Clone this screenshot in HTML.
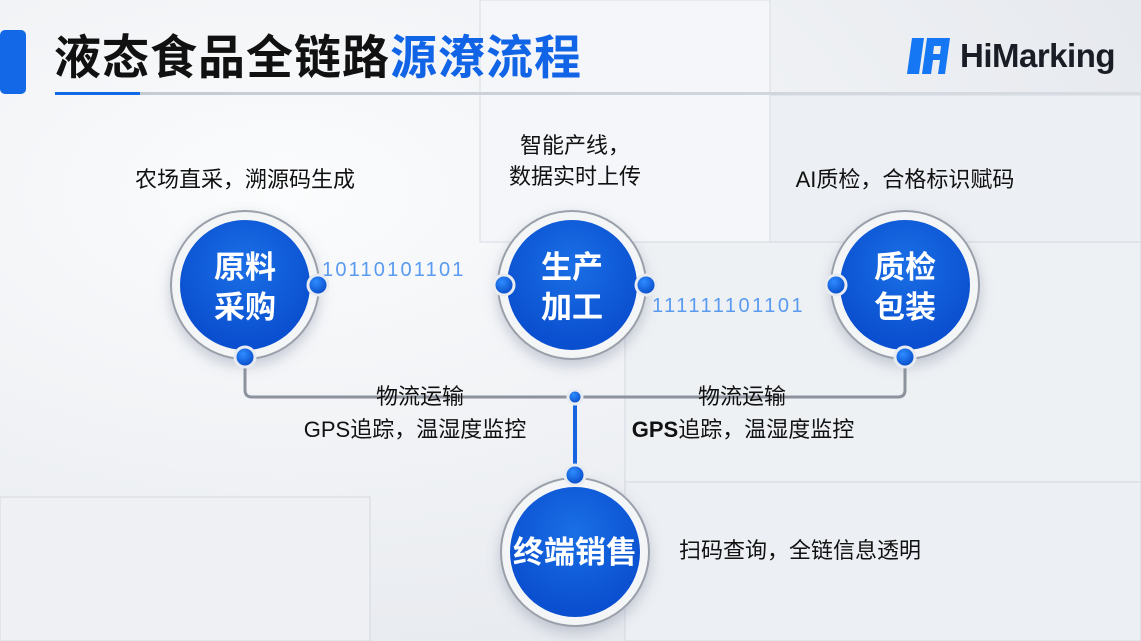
<!DOCTYPE html>
<html><head><meta charset="utf-8"><style>
html,body{margin:0;padding:0}
body{width:1141px;height:641px;overflow:hidden;position:relative;background:#eef0f4;font-family:"Liberation Sans","Noto Sans CJK SC",sans-serif}
.t{position:absolute;color:#111;font-size:22px;white-space:nowrap;text-align:center;line-height:31px}
</style></head><body>
<svg width="1141" height="641" style="position:absolute;left:0;top:0">
<defs>
<radialGradient id="bg" cx="0.25" cy="0.3" r="0.8"><stop offset="0" stop-color="#fbfcfd"/><stop offset="1" stop-color="#e6e9ee"/></radialGradient>
<radialGradient id="bl" cx="0.5" cy="0.35" r="0.6"><stop offset="0" stop-color="#1a6fe6"/><stop offset="1" stop-color="#0a4fcf"/></radialGradient>
<radialGradient id="dot" cx="0.4" cy="0.35" r="0.6"><stop offset="0" stop-color="#2f8cff"/><stop offset="1" stop-color="#0a50cc"/></radialGradient>
<linearGradient id="hl" x1="0" x2="1"><stop offset="0" stop-color="#8a8f98"/><stop offset="0.3" stop-color="#1163e8"/><stop offset="0.7" stop-color="#1163e8"/><stop offset="1" stop-color="#8a8f98"/></linearGradient>
<linearGradient id="ul" x1="0" x2="1"><stop offset="0" stop-color="#c4c9d2"/><stop offset="1" stop-color="#d8dce3"/></linearGradient>
<filter id="sh" x="-30%" y="-30%" width="160%" height="160%"><feDropShadow dx="0" dy="6" stdDeviation="7" flood-color="#6b7690" flood-opacity="0.35"/></filter>
</defs>
<rect width="1141" height="641" fill="url(#bg)"/>
<rect x="480" y="0" width="290" height="242" fill="#f4f6f9" stroke="#d8dce3"/>
<rect x="770" y="95" width="371" height="385" fill="#eceff3" stroke="#d8dce3"/>
<rect x="625" y="242" width="516" height="240" fill="#eef1f4" stroke="#d4d8df"/>
<rect x="625" y="482" width="516" height="159" fill="#eceff3" stroke="#d4d8df"/>
<rect x="0" y="497" width="370" height="144" fill="#eef0f3" stroke="#d4d8df"/>
<rect x="0" y="30" width="26" height="64" rx="5" fill="#1368e8"/>
<rect x="55" y="92" width="1086" height="3" fill="url(#ul)"/>
<rect x="55" y="92" width="85" height="3" fill="#1368e8"/>
<line x1="318" y1="285" x2="504" y2="285" stroke="url(#hl)" stroke-width="4"/>
<line x1="646" y1="285" x2="836" y2="285" stroke="url(#hl)" stroke-width="4"/>
<path d="M245 357 V390 Q245 397 252 397 H898 Q905 397 905 390 V357" fill="none" stroke="#8d939c" stroke-width="3"/>
<line x1="575" y1="397" x2="575" y2="475" stroke="#1565e0" stroke-width="4"/>
<text x="322" y="276" font-family="Liberation Sans" font-size="20" fill="#5a9af0" letter-spacing="2.2">10110101101</text>
<text x="652" y="312" font-family="Liberation Sans" font-size="20" fill="#5a9af0" letter-spacing="2.5">111111101101</text>
<g filter="url(#sh)">
<circle cx="245" cy="285" r="74" fill="#f4f5f7" stroke="#9aa0aa" stroke-width="2"/>
<circle cx="572" cy="285" r="74" fill="#f4f5f7" stroke="#9aa0aa" stroke-width="2"/>
<circle cx="905" cy="285" r="74" fill="#f4f5f7" stroke="#9aa0aa" stroke-width="2"/>
<circle cx="575" cy="552" r="74" fill="#f4f5f7" stroke="#9aa0aa" stroke-width="2"/>
</g>
<circle cx="245" cy="285" r="65" fill="url(#bl)"/>
<circle cx="572" cy="285" r="65" fill="url(#bl)"/>
<circle cx="905" cy="285" r="65" fill="url(#bl)"/>
<circle cx="575" cy="552" r="65" fill="url(#bl)"/>
<g fill="url(#dot)" stroke="#e8ebef" stroke-width="3">
<circle cx="318" cy="285" r="10"/><circle cx="504" cy="285" r="10"/>
<circle cx="646" cy="285" r="10"/><circle cx="836" cy="285" r="10"/>
<circle cx="245" cy="357" r="10"/><circle cx="905" cy="357" r="10"/>
<circle cx="575" cy="475" r="10"/><circle cx="575" cy="397" r="7"/>
</g>
<g font-family="Liberation Sans,Noto Sans CJK SC,sans-serif" font-weight="bold" font-size="31" fill="#fff" text-anchor="middle">
<text x="245" y="278">原料</text><text x="245" y="318">采购</text>
<text x="572" y="278">生产</text><text x="572" y="318">加工</text>
<text x="905" y="278">质检</text><text x="905" y="318">包装</text>
<text x="575" y="563">终端销售</text>
</g>
<path d="M912 38 H924 L919 74 H907 Z" fill="#1577f3"/>
<path d="M927 38 H950 L945 74 H938 L940 60 H933 L931 74 H922 Z M934 46 L933 54 H940 L941 46 Z" fill="#1577f3"/>
</svg>
<div style="position:absolute;left:54px;top:27px;font-size:47px;font-weight:bold;line-height:62px;white-space:nowrap;letter-spacing:1px;font-family:'Liberation Sans','Noto Sans CJK SC',sans-serif"><span style="color:#111">液态食品全链路</span><span style="color:#1264e6">源潦流程</span></div>
<div style="position:absolute;left:960px;top:36px;font-size:33px;font-weight:bold;color:#1a1d26;line-height:40px;letter-spacing:-0.5px">HiMarking</div>
<div class="t" style="left:120px;top:164px;width:250px">农场直采，溯源码生成</div>
<div class="t" style="left:490px;top:130px;width:170px">智能产线，<br>数据实时上传</div>
<div class="t" style="left:780px;top:164px;width:250px">AI质检，合格标识赋码</div>
<div class="t" style="left:350px;top:381px;width:140px">物流运输</div>
<div class="t" style="left:280px;top:414px;width:270px">GPS追踪，温湿度监控</div>
<div class="t" style="left:672px;top:381px;width:140px">物流运输</div>
<div class="t" style="left:608px;top:414px;width:270px;font-weight:bold">GPS<span style="font-weight:normal">追踪，温湿度监控</span></div>
<div class="t" style="left:665px;top:535px;width:270px">扫码查询，全链信息透明</div>
</body></html>
